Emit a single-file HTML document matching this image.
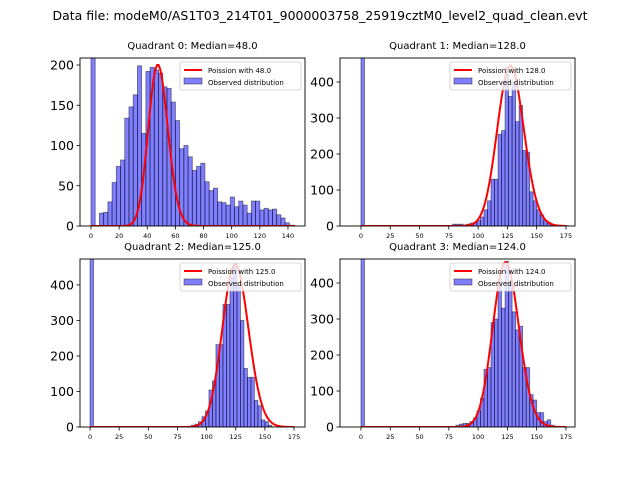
<!DOCTYPE html>
<html><head><meta charset="utf-8"><style>
html,body{margin:0;padding:0;background:#fff;}
svg{display:block;font-family:"DejaVu Sans","Liberation Sans",sans-serif;}
</style></head><body>
<svg id="chart" width="640" height="480" viewBox="0 0 640 480">
<text x="320" y="20" text-anchor="middle" font-size="12.5" textLength="535" lengthAdjust="spacingAndGlyphs">Data file: modeM0/AS1T03_214T01_9000003758_25919cztM0_level2_quad_clean.evt</text>
</svg>
<script>
// ---- data ----
const titles = ["Quadrant 0: Median=48.0","Quadrant 1: Median=128.0","Quadrant 2: Median=125.0","Quadrant 3: Median=124.0"];
const medians = [48, 128, 125, 124];
const curvePeaks = [200, 445, 458, 458];
const binWidth = 3;
const zeroBinCounts = [2500, 2500, 2500, 2500];
const binStarts = [6, 78, 87, 81];
const q0Counts = [16,17,30,54,74,82,134,148,163,199,115,192,197,194,190,173,171,154,131,96,100,86,69,74,78,55,44,47,30,29,26,36,24,31,26,16,31,31,20,22,20,21,14,10,4,1];
const q1Counts = [5,5,5,3,5,8,10,15,25,45,70,130,130,255,265,440,360,400,290,335,210,205,95,70,45,30,15,10,5,2,2,1,1];
const q2Counts = [5,8,15,29,45,104,130,232,232,345,345,420,460,400,300,165,140,140,75,60,20,15,5];
const q3Counts = [5,8,10,10,15,25,45,80,160,165,290,300,410,330,460,400,320,270,280,165,165,90,75,40,40,15,20,5];
const allCounts = [q0Counts, q1Counts, q2Counts, q3Counts];
const curveMax = [145, 175, 175, 175];
const xTicks0 = [0,20,40,60,80,100,120,140];
const xTicks1 = [0,25,50,75,100,125,150,175];
const yTicks0 = [0,50,100,150,200];
const yTicks1 = [0,100,200,300,400];

// ---- layout ----
const panels = [
  {l:80,r:305,t:58,b:226,xd:[-7.8,152.1],yd:[0,208.7],xt:xTicks0,yt:yTicks0,legX:180,legY:62},
  {l:340,r:575,t:58,b:226,xd:[-17.9,182.7],yd:[0,466.7],xt:xTicks1,yt:yTicks1,legX:450,legY:62},
  {l:80,r:305,t:259,b:427,xd:[-8.6,184.4],yd:[0,473],xt:xTicks1,yt:yTicks1,legX:180,legY:263},
  {l:340,r:575,t:259,b:427,xd:[-17.9,182.7],yd:[0,466.7],xt:xTicks1,yt:yTicks1,legX:450,legY:263}
];
const NS="http://www.w3.org/2000/svg";
const svg=document.getElementById('chart');
function mk(tag,attrs,parent){const e=document.createElementNS(NS,tag);for(const k in attrs)e.setAttribute(k,attrs[k]);(parent||svg).appendChild(e);return e;}
function lfact(k){let s=0;for(let i=2;i<=k;i++)s+=Math.log(i);return s;}

panels.forEach((p,i)=>{
  const g=mk('g',{});
  
  
  const xs=v=>p.l+(v-p.xd[0])/(p.xd[1]-p.xd[0])*(p.r-p.l);
  const ys=v=>p.b-(v-p.yd[0])/(p.yd[1]-p.yd[0])*(p.b-p.t);
  const cp=mk('clipPath',{id:'clip'+i},g);
  mk('rect',{x:p.l,y:p.t,width:p.r-p.l,height:p.b-p.t},cp);
  const pg=mk('g',{'clip-path':'url(#clip'+i+')'},g);
  const z=mk('rect',{x:xs(0),y:ys(zeroBinCounts[i]),width:xs(binWidth)-xs(0),height:ys(0)-ys(zeroBinCounts[i]),fill:'#0000ff','fill-opacity':0.5,stroke:'#000','stroke-opacity':0.5,'stroke-width':0.8},pg);
  
  
  allCounts[i].forEach((c,j)=>{
    const x0=binStarts[i]+j*binWidth;
    const r=mk('rect',{x:xs(x0),y:ys(c),width:xs(x0+binWidth)-xs(x0),height:ys(0)-ys(c),fill:'#0000ff','fill-opacity':0.5,stroke:'#000','stroke-opacity':0.5,'stroke-width':0.8},pg);
    
    
  });
  const lam=medians[i];
  const logPeak=Math.floor(lam)*Math.log(lam)-lam-lfact(Math.floor(lam));
  let d='';
  for(let k=0;k<=curveMax[i];k++){
    const v=curvePeaks[i]*Math.exp(k*Math.log(lam)-lam-lfact(k)-logPeak);
    d+=(k?'L':'M')+xs(k).toFixed(2)+','+ys(v).toFixed(2);
  }
  const pl=mk('path',{d:d,fill:'none',stroke:'#ff0000','stroke-width':2},pg);
  
  
  const fr=mk('rect',{x:p.l,y:p.t,width:p.r-p.l,height:p.b-p.t,fill:'none',stroke:'#000','stroke-width':0.9},g);
  
  
  p.xt.forEach(t=>{
    const x=xs(t);
    mk('line',{x1:x,x2:x,y1:p.b,y2:p.b+3.5,stroke:'#000','stroke-width':0.8},g);
    const tx=mk('text',{x:x,y:p.b+12,'text-anchor':'middle','font-size':6.5},g);
    tx.textContent=t;
    
    
  });
  p.yt.forEach(t=>{
    const y=ys(t);
    mk('line',{x1:p.l-3.5,x2:p.l,y1:y,y2:y,stroke:'#000','stroke-width':0.8},g);
    const tx=mk('text',{x:p.l-6,y:y+4.5,'text-anchor':'end','font-size':12.5},g);
    tx.textContent=t;
    
    
  });
  const tt=mk('text',{x:(p.l+p.r)/2,y:p.t-9,'text-anchor':'middle','font-size':10},g);
  tt.textContent=titles[i];
  
  
  const lg=mk('g',{},g);
  
  
  mk('rect',{x:p.legX,y:p.legY,width:121,height:28,rx:2,fill:'#fff','fill-opacity':0.8,stroke:'#ccc','stroke-width':0.8},lg);
  mk('line',{x1:p.legX+4,x2:p.legX+22,y1:p.legY+8,y2:p.legY+8,stroke:'#ff0000','stroke-width':2},lg);
  const l1=mk('text',{x:p.legX+28,y:p.legY+11,'font-size':7},lg);
  l1.textContent='Poission with '+medians[i].toFixed(1);
  
  
  mk('rect',{x:p.legX+4,y:p.legY+16,width:18,height:6,fill:'#0000ff','fill-opacity':0.5,stroke:'#000','stroke-opacity':0.5,'stroke-width':0.8},lg);
  const l2=mk('text',{x:p.legX+28,y:p.legY+23,'font-size':7},lg);
  l2.textContent='Observed distribution';
  
  
});
</script>
</body></html>
